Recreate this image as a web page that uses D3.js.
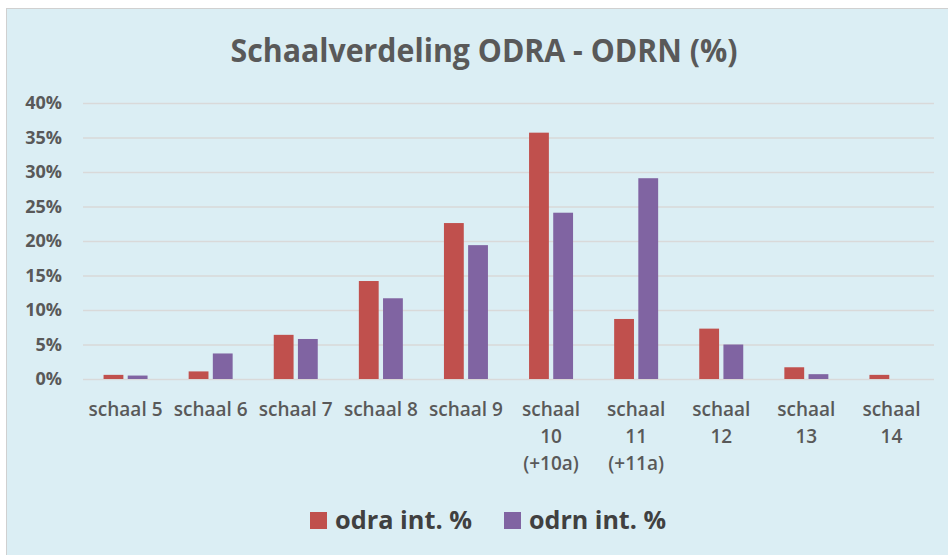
<!DOCTYPE html>
<html>
<head>
<meta charset="utf-8">
<script src="https://cdn.jsdelivr.net/npm/d3@7"></script>
<style>
  html, body { margin: 0; padding: 0; background: #fff; }
  svg { display: block; }
</style>
</head>
<body>
<div id="chart"></div>
<script>
// ── Data ────────────────────────────────────────────────────────
const CATEGORIES = [
  'schaal 5', 'schaal 6', 'schaal 7', 'schaal 8', 'schaal 9',
  'schaal 10 (+10a)', 'schaal 11 (+11a)', 'schaal 12', 'schaal 13', 'schaal 14',
];
const SERIES = ['odra int. %', 'odrn int. %'];
const ODRA = [0.6, 1.1, 6.4, 14.2, 22.6, 35.7, 8.7, 7.3, 1.7, 0.6];
const ODRN = [0.5, 3.7, 5.8, 11.7, 19.4, 24.1, 29.1, 5.0, 0.7, 0];
const Y_TICKS = [0, 5, 10, 15, 20, 25, 30, 35, 40];

// ── Style tokens ────────────────────────────────────────────────
const COLORS = { odra: '#c0504d', odrn: '#8064a2' };
const BG = '#dbeef4';
const GRID = '#d9d9d9';
const TEXT = '#595959';
const FONT = "'Open Sans', 'DejaVu Sans', sans-serif";

const W = 948, H = 555;
const M = { left: 83, right: 14, top: 103, bottom: 176 }; // plot box

const svg = d3.select('#chart').append('svg')
  .attr('width', W).attr('height', H)
  .attr('viewBox', `0 0 ${W} ${H}`);

// ── Chart area background + border ──────────────────────────────
svg.append('rect')
  .attr('x', 6.5).attr('y', 8.5).attr('width', W).attr('height', H)
  .attr('fill', BG).attr('stroke', '#d0d0d0').attr('stroke-width', 1);

// ── Scales ──────────────────────────────────────────────────────
const x0 = d3.scaleBand()
  .domain(CATEGORIES)
  .range([M.left, W - M.right])
  .padding(0);

const x1 = d3.scaleBand()
  .domain(SERIES)
  .range([(x0.bandwidth() - 44) / 2, (x0.bandwidth() + 44) / 2])
  .paddingInner(0.18);

const y = d3.scaleLinear()
  .domain([0, 40])
  .range([H - M.bottom, M.top]);

// ── Gridlines + y axis ──────────────────────────────────────────
const yAxis = svg.append('g')
  .attr('transform', `translate(${M.left},0)`)
  .call(d3.axisLeft(y)
    .tickValues(Y_TICKS)
    .tickSize(-(W - M.left - M.right))
    .tickPadding(21)
    .tickFormat(d => d + '%'));
yAxis.select('.domain').remove();
yAxis.selectAll('.tick line').attr('stroke', GRID).attr('stroke-width', 1.3);
yAxis.selectAll('.tick text')
  .attr('fill', TEXT)
  .attr('font-family', FONT)
  .attr('font-weight', 700)
  .attr('font-size', 18);

// ── Bars ────────────────────────────────────────────────────────
const rows = CATEGORIES.map((c, i) => ({ cat: c, values: [ODRA[i], ODRN[i]] }));
const barColors = [COLORS.odra, COLORS.odrn];

const groups = svg.append('g').selectAll('g')
  .data(rows)
  .join('g')
  .attr('transform', d => `translate(${x0(d.cat)},0)`);

groups.selectAll('rect')
  .data(d => d.values.map((v, j) => ({ key: SERIES[j], v, color: barColors[j] })))
  .join('rect')
  .attr('x', d => x1(d.key))
  .attr('width', x1.bandwidth())
  .attr('y', d => y(d.v))
  .attr('height', d => y(0) - y(d.v))
  .attr('fill', d => d.color);

// ── X axis labels (wrapped when wider than the band) ───────────
const xAxis = svg.append('g')
  .attr('transform', `translate(0,${y(0)})`)
  .call(d3.axisBottom(x0).tickSize(0).tickPadding(0));
xAxis.select('.domain').remove();
xAxis.selectAll('.tick text')
  .attr('fill', TEXT)
  .attr('font-family', FONT)
  .attr('font-weight', 600)
  .attr('font-size', 19)
  .attr('y', 0)
  .attr('dy', 0)
  .each(function (d) {
    const t = d3.select(this);
    t.text(d);
    const lines = this.getComputedTextLength() > x0.bandwidth() - 2 ? d.split(' ') : [d];
    t.text(null);
    lines.forEach((ln, k) => {
      t.append('tspan').attr('x', 0).attr('y', 37 + k * 27).text(ln);
    });
  });

// ── Title ───────────────────────────────────────────────────────
svg.append('text')
  .attr('x', 484).attr('y', 62)
  .attr('text-anchor', 'middle')
  .attr('fill', TEXT)
  .attr('font-family', FONT)
  .attr('font-weight', 700)
  .attr('font-size', 32)
  .attr('textLength', 507)
  .attr('lengthAdjust', 'spacingAndGlyphs')
  .text('Schaalverdeling ODRA - ODRN (%)');

// ── Legend ──────────────────────────────────────────────────────
const legend = svg.append('g');
const sq = 17, gapText = 8, gapItem = 32;
let lx = 0;
SERIES.forEach((name, j) => {
  const item = legend.append('g').attr('transform', `translate(${lx},0)`);
  item.append('rect')
    .attr('x', 0).attr('y', -sq).attr('width', sq).attr('height', sq)
    .attr('fill', barColors[j]);
  const txt = item.append('text')
    .attr('x', sq + gapText).attr('y', 0)
    .attr('fill', '#404040')
    .attr('font-family', FONT)
    .attr('font-weight', 700)
    .attr('font-size', 25)
    .attr('textLength', 137)
    .attr('lengthAdjust', 'spacingAndGlyphs')
    .text(name);
  lx += sq + gapText + 137 + gapItem;
});
const lw = lx - gapItem;
legend.attr('transform', `translate(${488 - lw / 2},529)`);
</script>
</body>
</html>
